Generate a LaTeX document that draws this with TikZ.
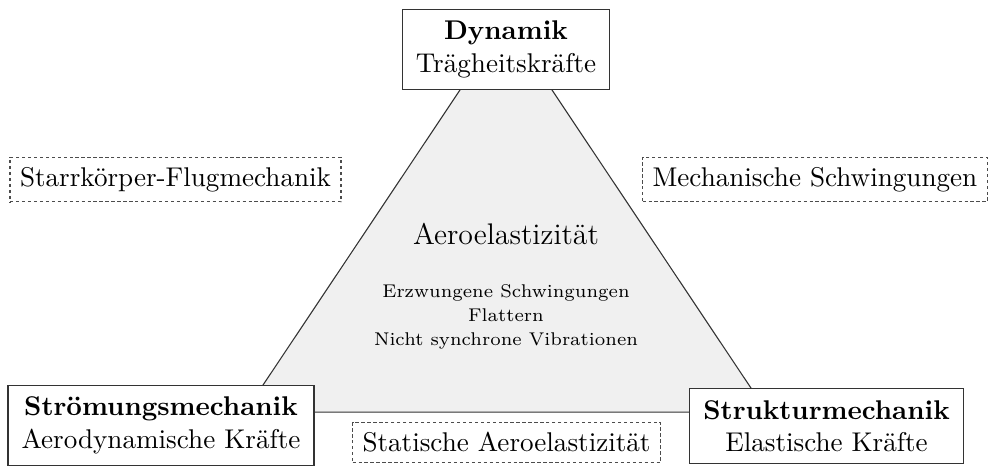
\documentclass[tikz,border=0pt]{standalone}
\usepackage{fontspec}
\usetikzlibrary{positioning}

\begin{document}
\begin{tikzpicture}[node distance=0.27cm,
    box/.style={draw=black!80,fill=white,align=center,inner xsep=5pt,inner ysep=4.2pt},
    side/.style={draw=black!70,dash pattern=on 1.2pt off 1pt,fill=white,inner sep=3.7pt},
    effect/.style={align=center,font=\fontsize{6.8}{8.9}\selectfont}]

  \useasboundingbox (0,0) rectangle (12.826,6.044);

  \coordinate (t) at (6.562,5.771);
  \coordinate (l) at (3.177,0.700);
  \coordinate (r) at (9.947,0.700);
  \draw[draw=black!80,fill=black!6] (t) -- (l) -- (r) -- cycle;

  \node[box]  (dyn)    at (6.562,5.402)  {\textbf{Dynamik}\\Trägheitskräfte};
  \node[box]  (stroem) at (2.088,0.525)  {\textbf{Strömungsmechanik}\\Aerodynamische Kräfte};
  \node[box]  (strukt) at (10.719,0.519) {\textbf{Strukturmechanik}\\Elastische Kräfte};

  \node[side] (flug)   at (2.276,3.716)  {Starrkörper-Flugmechanik};
  \node[side,anchor=west] (schw) at (8.326,3.716) {Mechanische Schwingungen};
  \node[side] (statik) at (6.569,0.305)  {Statische Aeroelastizität};

  \node[font=\fontsize{11}{13}\selectfont] (aero) at (6.562,3.013) {Aeroelastizität};
  \node[effect] (eff) [below=of aero] {Erzwungene Schwingungen\\Flattern\\Nicht synchrone Vibrationen};
\end{tikzpicture}
\end{document}
